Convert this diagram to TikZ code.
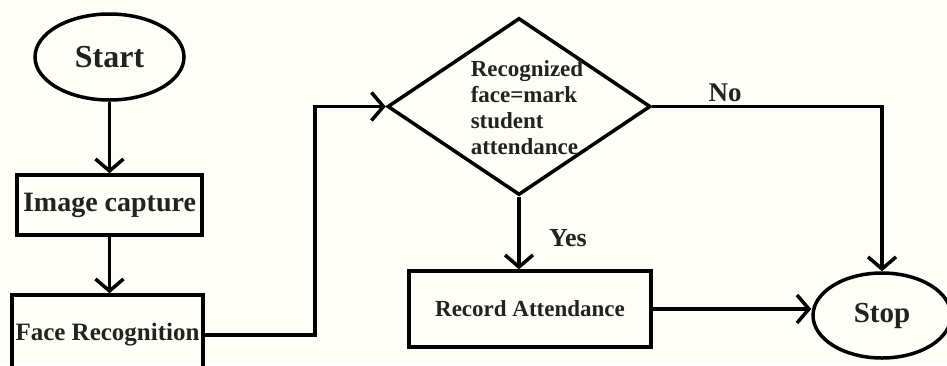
\documentclass[tikz,border=0pt]{standalone}
\usepackage{fontspec}
\setmainfont{Liberation Serif}
\usetikzlibrary{shapes.geometric,arrows.meta,calc}
\definecolor{bgc}{HTML}{FFFDF7}
\definecolor{txt}{HTML}{222222}
\begin{document}
\begin{tikzpicture}[x=1pt,y=-1pt,
  every node/.style={text=txt,font=\bfseries},
  oval/.style={draw=black,line width=3.5pt,ellipse,inner sep=0pt},
  procbox/.style={draw=black,line width=3.5pt,rectangle,inner sep=0pt},
  conn/.style={draw=black,line width=3.5pt,-{Straight Barb[length=12pt,width=28pt]}},
  lbl/.style={inner sep=0pt}]
\fill[bgc] (0,0) rectangle (947,365);
\useasboundingbox (0,0) rectangle (947,365);
\node[oval,minimum width=149pt,minimum height=86pt,font=\bfseries\fontsize{32}{36}\selectfont] (start) at (109.5,57) {Start};
\node[procbox,minimum width=185pt,minimum height=60pt,font=\bfseries\fontsize{28}{32}\selectfont] (image) at (109.5,205) {Image capture};
\node[procbox,minimum width=191pt,minimum height=80pt,font=\bfseries\fontsize{25}{28}\selectfont] (face) at (107.5,335) {Face Recognition};
\node[diamond,draw=black,line width=3.5pt,minimum width=263pt,minimum height=177pt,inner sep=0pt] (dia) at (519,106.5) {};
\node[lbl,align=left,font=\bfseries\fontsize{23}{26}\selectfont] (dtext) at (527,108) {Recognized\\face=mark\\student\\attendance};
\node[procbox,minimum width=242pt,minimum height=76pt,font=\bfseries\fontsize{23}{26}\selectfont] (rec) at (530,309) {Record Attendance};
\node[oval,minimum width=138pt,minimum height=85pt,font=\bfseries\fontsize{29}{32}\selectfont] (stop) at (882,315.5) {Stop};
\coordinate (b1) at (315,0);
\draw[conn] (start.south) -- (image.north);
\draw[conn] (image.south) -- (image.south |- face.north);
\draw[conn] (face.east) -| (b1 |- dia.west) -- (dia.west);
\draw[conn] (dia.south) -- (dia.south |- rec.north);
\draw[conn] (rec.east) -- (rec.east -| stop.west);
\draw[conn] (dia.east) -| (stop.north);
\node[lbl,font=\bfseries\fontsize{27}{30}\selectfont] (no) at (725,93) {No};
\node[lbl,font=\bfseries\fontsize{26}{30}\selectfont] (yes) at (568,238) {Yes};
\end{tikzpicture}
\end{document}
